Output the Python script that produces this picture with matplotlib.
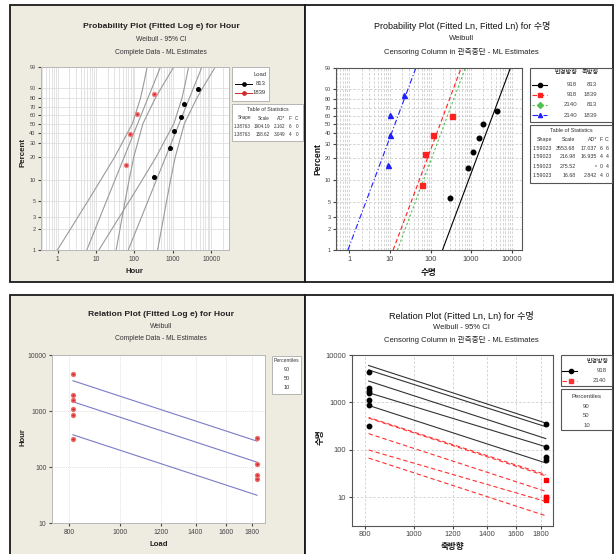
import numpy as np
import matplotlib
matplotlib.use('Agg')
import matplotlib.pyplot as plt
from matplotlib.patches import Rectangle
from matplotlib.lines import Line2D
from matplotlib.ticker import NullLocator, FixedLocator, FixedFormatter, LogLocator, NullFormatter

plt.rcParams['font.family'] = ['Liberation Sans', 'Noto Sans CJK KR', 'DejaVu Sans']

# ================= DATA =================
# Panel A: Probability Plot (Fitted Log e) for Hour, by Load
a_loads = ['813', '1839']
a_hours_813 = [320, 850, 1100, 1600, 1950, 4500]
a_pct_813 = [10.9, 26.6, 42.2, 57.8, 73.4, 89.1]
a_hours_1839 = [62, 75, 115, 330]
a_pct_1839 = [15.9, 38.6, 61.4, 84.1]
a_shape = [1.38763, 1.38763]
a_scale = [1904.19, 158.62]
a_shape_txt = ['1.38763', '1.38763']
a_scale_txt = ['1904.19', '158.62']
a_ad = ['2.162', '3.049']
a_f = ['6', '4']
a_c = ['0', '0']
a_ci_pct = [1, 5, 10, 20, 50, 80, 90, 95, 99]
a_ci_813_lo = [11.9, 73, 161, 363, 1067, 1723, 1996, 2205, 2573]
a_ci_813_hi = [402, 687, 877, 1150, 2005, 4178, 6046, 7996, 12750]
a_ci_1839_lo = [0.99, 6.1, 13.4, 30.3, 88.9, 143.5, 166.3, 183.7, 214.3]
a_ci_1839_hi = [33.5, 57.2, 73.0, 95.7, 166.9, 348.2, 503.9, 666.4, 1061]

# Panel B: Probability Plot (Fitted Ln, Fitted Ln) for 수명
b_radial = ['918', '918', '2140', '2140']
b_axial = ['813', '1839', '813', '1839']
b_shape = [1.59023, 1.59023, 1.59023, 1.59023]
b_scale = [3553.68, 216.98, 275.52, 16.68]
b_shape_txt = ['1.59023', '1.59023', '1.59023', '1.59023']
b_scale_txt = ['3553.68', '216.98', '275.52', '16.68']
b_ad = ['17.037', '16.935', '*', '2.842']
b_f = ['6', '4', '0', '4']
b_c = ['6', '4', '4', '0']
b_t_1 = [302, 850, 1090, 1590, 1950, 4270]
b_p_1 = [5.6, 14.5, 24.0, 35.0, 50.0, 66.5]
b_t_2 = [61, 73, 117, 333]
b_p_2 = [8.5, 22.3, 38.2, 60.0]
b_t_3 = []
b_p_3 = []
b_t_4 = [8.8, 10, 10, 22.6]
b_p_4 = [15.9, 38.6, 61.4, 84.1]

# Panel C: Relation Plot (Fitted Log e) for Hour
c_loads = [813, 1839]
c_hours_813 = [320, 850, 1100, 1600, 1950, 4500]
c_hours_1839 = [62, 72, 115, 330]
c_pcts = [90, 50, 10]
c_scale = [1904.19, 158.62]
c_shape = 1.38763

# Panel D: Relation Plot (Fitted Ln, Ln) for 수명
d_axial = [813, 1839]
d_918_813 = [4440, 1980, 1760, 1600, 1120, 877, 321]
d_918_1839 = [345, 116, 71, 61]
d_2140_1839 = [22.6, 10.0, 10.0, 8.8]
d_shape = 1.59023
d_scale_918 = [3553.68, 216.98]
d_scale_2140 = [275.52, 16.68]
d_pcts = [90, 50, 10]
d_ci50_918_lo = [1600, 116]
d_ci50_918_hi = [4830, 307]
d_ci50_2140_lo = [99, 8.1]
d_ci50_2140_hi = [480, 30]

pct_ticks = [1, 2, 3, 5, 10, 20, 30, 40, 50, 60, 70, 80, 90, 99]

# ================= HELPERS =================
W, H = 615, 554
fig = plt.figure(figsize=(W / 100, H / 100), dpi=100)
fig.patch.set_facecolor('white')


def px_ax(l, t, r, b):
    return fig.add_axes([l / W, 1 - b / H, (r - l) / W, (b - t) / H])


def T(x, y, s, **kw):
    kw.setdefault('ha', 'center')
    kw.setdefault('va', 'center')
    return fig.text(x / W, 1 - y / H, s, **kw)


def R(l, t, r, b, fc, ec, lw=1.0, z=-5):
    fig.add_artist(Rectangle((l / W, 1 - b / H), (r - l) / W, (b - t) / H,
                             transform=fig.transFigure, fc=fc, ec=ec, lw=lw, zorder=z))


def LG(x0, x1, y, color, ls, marker, ms, mx, lw=0.8):
    fig.add_artist(Line2D([x0 / W, x1 / W], [1 - y / H] * 2, transform=fig.transFigure,
                          color=color, ls=ls, lw=lw, zorder=3))
    fig.add_artist(Line2D([mx / W], [1 - y / H], transform=fig.transFigure, marker=marker,
                          color=color, ms=ms, ls='none', zorder=3))


def wfwd(p):
    p = np.clip(np.asarray(p, dtype=float), 1e-9, 100 - 1e-9)
    return np.log(-np.log(1 - p / 100.0))


def winv(z):
    return 100.0 * (1 - np.exp(-np.exp(np.asarray(z, dtype=float))))


def wpct(scale, shape, p):
    p = np.asarray(p, dtype=float)
    return scale * (-np.log(1 - p / 100.0)) ** (1.0 / shape)


def prob_axes(ax, xlim, gridstyle, gridcolor, lab_fs):
    ax.set_xscale('log')
    ax.set_yscale('function', functions=(wfwd, winv))
    ax.set_xlim(*xlim)
    ax.set_ylim(1, 99)
    ax.yaxis.set_major_locator(FixedLocator(pct_ticks))
    ax.yaxis.set_major_formatter(FixedFormatter([str(v) for v in pct_ticks]))
    ax.yaxis.set_minor_locator(NullLocator())
    ax.xaxis.set_major_locator(FixedLocator([1, 10, 100, 1000, 10000]))
    ax.xaxis.set_major_formatter(FixedFormatter(['1', '10', '100', '1000', '10000']))
    ax.xaxis.set_minor_locator(LogLocator(base=10, subs=np.arange(2, 10)))
    ax.xaxis.set_minor_formatter(NullFormatter())
    ax.grid(True, which='major', color=gridcolor, ls=gridstyle, lw=0.6)
    ax.grid(True, which='minor', axis='x', color=gridcolor, ls=gridstyle, lw=0.6)
    ax.set_axisbelow(True)
    ax.tick_params(which='minor', length=0)
    ax.tick_params(axis='y', which='major', length=2, labelsize=4.0, pad=1.5, colors='#444')
    ax.tick_params(axis='x', which='major', length=2, labelsize=lab_fs, pad=2, colors='#444')


# ================= PANEL FRAMES =================
BEIGE = '#eeebe1'
R(10, 5, 305, 282, BEIGE, '#1a1a1a', 1.3)
R(305, 5, 613, 282, 'white', '#1a1a1a', 1.3)
R(10, 295, 305, 570, BEIGE, '#1a1a1a', 1.3)
R(305, 295, 613, 570, 'white', '#1a1a1a', 1.3)

# ================= PANEL A =================
axA = px_ax(40.5, 67, 229, 250)
prob_axes(axA, (0.36, 29000), '-', '#dedede', 4.8)
for s in axA.spines.values():
    s.set_color('#b8b8b8'); s.set_linewidth(0.7)
p_line = [1, 99]
for i in range(2):
    axA.plot(wpct(a_scale[i], a_shape[i], p_line), p_line, color='#9a9a9a', lw=0.8)
axA.plot(a_ci_813_lo, a_ci_pct, color='#9a9a9a', lw=0.8)
axA.plot(a_ci_813_hi, a_ci_pct, color='#9a9a9a', lw=0.8)
axA.plot(a_ci_1839_lo, a_ci_pct, color='#9a9a9a', lw=0.8)
axA.plot(a_ci_1839_hi, a_ci_pct, color='#9a9a9a', lw=0.8)
axA.plot(a_hours_813, a_pct_813, 'o', color='#000000', ms=2.6, zorder=4)
axA.plot(a_hours_1839, a_pct_1839, 'o', color='#d42828', mec='#f08080', ms=2.8, zorder=4)
T(161, 26, 'Probability Plot (Fitted Log e) for Hour', fontsize=6.1, fontweight='bold', color='#222')
T(161, 39.3, 'Weibull - 95% CI', fontsize=4.9, color='#333')
T(161, 52, 'Complete Data - ML Estimates', fontsize=4.9, color='#333')
T(134.5, 271.5, 'Hour', fontsize=5.6, fontweight='bold', color='#222')
T(23, 152, 'Percent', fontsize=5.8, fontweight='bold', rotation=90, color='#222')
# legend A
R(232, 67, 269, 101, 'white', '#aaaaaa', 0.6, z=1)
T(266, 75, 'Load', fontsize=4.2, ha='right', color='#333')
LG(235, 252, 84, '#000000', '-', 'o', 2.4, 243.5, lw=0.7)
T(266, 84, a_loads[0], fontsize=4.2, ha='right', color='#333')
LG(235, 252, 93, '#d42828', '-', 'o', 2.4, 243.5, lw=0.7)
T(266, 93, a_loads[1], fontsize=4.2, ha='right', color='#333')
R(232, 104, 303, 141, 'white', '#aaaaaa', 0.6, z=1)
T(267.5, 109.5, 'Table of Statistics', fontsize=3.8, color='#333')
colx = [251, 270, 285, 291.5, 298]
for x, s in zip(colx, ['Shape', 'Scale', 'AD*', 'F', 'C']):
    T(x, 118, s, fontsize=3.3, ha='right', color='#333')
for r, y in enumerate([126, 134]):
    for x, s in zip(colx, [a_shape_txt[r], a_scale_txt[r], a_ad[r], a_f[r], a_c[r]]):
        T(x, y, s, fontsize=3.3, ha='right', color='#333')

# ================= PANEL B =================
axB = px_ax(336, 68, 522, 250)
prob_axes(axB, (0.47, 17900), (0, (3, 2)), '#cccccc', 5.3)
for s in axB.spines.values():
    s.set_color('#555555'); s.set_linewidth(0.8)
stylesB = [('#000000', '-', 'o'), ('#ff2020', (0, (4, 2.5)), 's'),
           ('#50c050', (0, (2, 2)), 'D'), ('#2020ff', (0, (5, 2, 1, 2)), '^')]
pts = [(b_t_1, b_p_1), (b_t_2, b_p_2), (b_t_3, b_p_3), (b_t_4, b_p_4)]
for i in range(4):
    c, ls, m = stylesB[i]
    axB.plot(wpct(b_scale[i], b_shape[i], p_line), p_line, color=c, ls=ls, lw=0.8)
    if len(pts[i][0]):
        axB.plot(pts[i][0], pts[i][1], m, color=c, ms=3.6 if m != 'o' else 3.3, zorder=4)
T(461.7, 26, 'Probability Plot (Fitted Ln, Fitted Ln) for 수명', fontsize=6.5, color='#111')
T(461.7, 38.7, 'Weibull', fontsize=5.5, color='#222')
T(461.7, 51.7, 'Censoring Column in 관측중단 - ML Estimates', fontsize=5.5, color='#222')
T(429, 273, '수명', fontsize=6.2, fontweight='bold', color='#111')
T(318, 159, 'Percent', fontsize=6.2, fontweight='bold', rotation=90, color='#111')
# legend B
R(530, 68, 612, 122, 'white', '#555555', 0.8, z=1)
T(566, 72.5, '반경방향', fontsize=4.5, color='#222')
T(590, 72.5, '축방향', fontsize=4.5, color='#222')
for i, y in enumerate([85, 95, 105, 115]):
    c, ls, m = stylesB[i]
    LG(532, 547, y, c, ls, m, 3.0, 539.5, lw=0.8)
    T(577, y, b_radial[i], fontsize=4.4, ha='right', color='#444')
    T(597, y, b_axial[i], fontsize=4.4, ha='right', color='#444')
R(530, 125, 612, 183, 'white', '#555555', 0.8, z=1)
T(571, 131, 'Table of Statistics', fontsize=4.0, color='#333')
colxB = [552, 575.5, 597, 602.5, 608.5]
for x, s in zip(colxB, ['Shape', 'Scale', 'AD*', 'F', 'C']):
    T(x, 139.5, s, fontsize=3.8, ha='right', color='#333')
for r, y in enumerate([148, 157, 166.5, 175.5]):
    for x, s in zip(colxB, [b_shape_txt[r], b_scale_txt[r], b_ad[r], b_f[r], b_c[r]]):
        T(x, y, s, fontsize=3.8, ha='right', color='#333')

# ================= PANEL C =================
axC = px_ax(52, 355, 265, 523)
axC.set_xscale('log'); axC.set_yscale('log')
axC.set_xlim(741, 1905); axC.set_ylim(10, 10000)
xt = [800, 1000, 1200, 1400, 1600, 1800]
axC.xaxis.set_major_locator(FixedLocator(xt))
axC.xaxis.set_major_formatter(FixedFormatter([str(v) for v in xt]))
axC.xaxis.set_minor_locator(NullLocator())
axC.yaxis.set_major_locator(FixedLocator([10, 100, 1000, 10000]))
axC.yaxis.set_major_formatter(FixedFormatter(['10', '100', '1000', '10000']))
axC.yaxis.set_minor_locator(NullLocator())
axC.grid(True, color='#e2e2e2', ls=(0, (1, 1)), lw=0.7)
axC.set_axisbelow(True)
axC.tick_params(length=2, labelsize=4.9, pad=2, colors='#444')
for s in axC.spines.values():
    s.set_color('#b8b8b8'); s.set_linewidth(0.7)
for p in c_pcts:
    axC.plot(c_loads, [wpct(c_scale[0], c_shape, p), wpct(c_scale[1], c_shape, p)],
             color='#7b7bc8', lw=0.8)
axC.plot([c_loads[0]] * len(c_hours_813), c_hours_813, 'o', color='#d42828', mec='#f07070', ms=2.8, zorder=4)
axC.plot([c_loads[1]] * len(c_hours_1839), c_hours_1839, 'o', color='#d42828', mec='#f07070', ms=2.8, zorder=4)
T(161, 315, 'Relation Plot (Fitted Log e) for Hour', fontsize=6.1, fontweight='bold', color='#222')
T(161, 326.7, 'Weibull', fontsize=4.9, color='#333')
T(161, 339, 'Complete Data - ML Estimates', fontsize=4.9, color='#333')
T(158.5, 544, 'Load', fontsize=5.6, fontweight='bold', color='#222')
T(23, 437, 'Hour', fontsize=5.6, fontweight='bold', rotation=90, color='#222')
R(272, 356, 301, 394, 'white', '#aaaaaa', 0.6, z=1)
T(286.5, 360.5, 'Percentiles', fontsize=3.7, color='#333')
for p, y in zip(c_pcts, [369.3, 378.3, 387.3]):
    T(286.5, y, str(p), fontsize=4.0, color='#333')

# ================= PANEL D =================
axD = px_ax(351.7, 355, 553.3, 525.7)
axD.set_xscale('log'); axD.set_yscale('log')
axD.set_xlim(752, 1904); axD.set_ylim(2.5, 10000)
axD.xaxis.set_major_locator(FixedLocator(xt))
axD.xaxis.set_major_formatter(FixedFormatter([str(v) for v in xt]))
axD.xaxis.set_minor_locator(NullLocator())
axD.yaxis.set_major_locator(FixedLocator([10, 100, 1000, 10000]))
axD.yaxis.set_major_formatter(FixedFormatter(['10', '100', '1000', '10000']))
axD.yaxis.set_minor_locator(NullLocator())
axD.grid(True, color='#cfcfcf', ls=(0, (3, 2)), lw=0.6)
axD.set_axisbelow(True)
axD.tick_params(length=2, labelsize=5.4, pad=2, colors='#444')
for s in axD.spines.values():
    s.set_color('#555555'); s.set_linewidth(0.8)
for p in d_pcts:
    axD.plot(d_axial, [wpct(d_scale_918[0], d_shape, p), wpct(d_scale_918[1], d_shape, p)],
             color='#333333', lw=0.8)
    axD.plot(d_axial, [wpct(d_scale_2140[0], d_shape, p), wpct(d_scale_2140[1], d_shape, p)],
             color='#ff3030', lw=0.8, ls=(0, (4, 2.5)))
axD.plot(d_axial, d_ci50_918_lo, color='#333333', lw=0.8)
axD.plot(d_axial, d_ci50_918_hi, color='#333333', lw=0.8)
axD.plot(d_axial, d_ci50_2140_lo, color='#ff3030', lw=0.8, ls=(0, (4, 2.5)))
axD.plot(d_axial, d_ci50_2140_hi, color='#ff3030', lw=0.8, ls=(2, (4, 2.5)))
axD.plot([d_axial[0]] * len(d_918_813), d_918_813, 'o', color='#000000', ms=3.2, zorder=4)
axD.plot([d_axial[1]] * len(d_918_1839), d_918_1839, 'o', color='#000000', ms=3.2, zorder=4)
axD.plot([d_axial[1]] * len(d_2140_1839), d_2140_1839, 's', color='#ff0000', ms=3.2, zorder=4)
T(461.7, 316, 'Relation Plot (Fitted Ln, Ln) for 수명', fontsize=6.6, color='#111')
T(461.7, 327.5, 'Weibull - 95% CI', fontsize=5.5, color='#222')
T(461.7, 340, 'Censoring Column in 관측중단 - ML Estimates', fontsize=5.5, color='#222')
T(452.5, 547, '축방향', fontsize=6.2, fontweight='bold', color='#111')
T(320, 437, '수명', fontsize=6.2, fontweight='bold', rotation=90, color='#111')
R(561, 355, 612, 386, 'white', '#555555', 0.8, z=1)
T(597.5, 361.5, '반경방향', fontsize=4.3, color='#222')
LG(562, 577, 370.5, '#000000', '-', 'o', 3.0, 570.5)
T(606.5, 370.5, '918', fontsize=4.3, ha='right', color='#444')
LG(562, 577, 380.5, '#ff3030', (0, (4, 2.5)), 's', 3.0, 570.5)
T(606.5, 380.5, '2140', fontsize=4.3, ha='right', color='#444')
R(561, 389, 612, 430, 'white', '#555555', 0.8, z=1)
T(586.5, 396.7, 'Percentiles', fontsize=4.3, color='#333')
for p, y in zip(d_pcts, [406, 415.7, 425.5]):
    T(586.5, y, str(p), fontsize=4.3, color='#444')

fig.savefig('out.png', dpi=100, facecolor='white')
